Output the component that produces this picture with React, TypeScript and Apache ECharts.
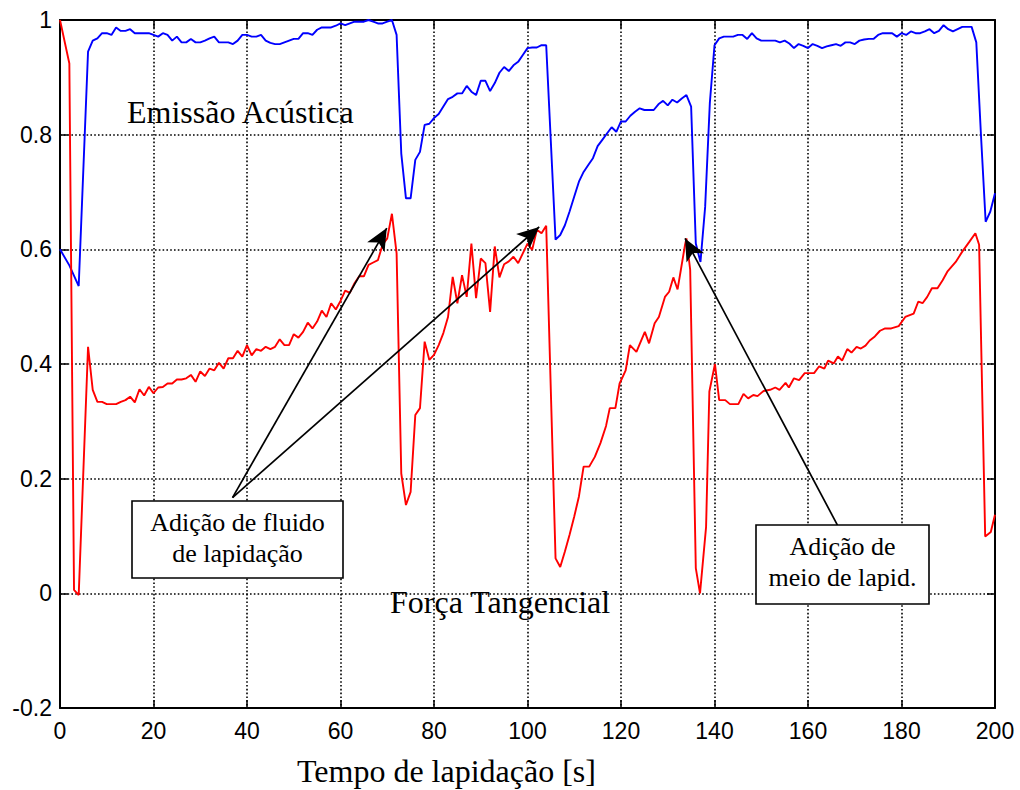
import React, { useEffect, useRef } from "react";
import * as echarts from "echarts";

// Emissão Acústica (blue) — time [s] and normalized value
const emissionT = [0, 2, 4, 6, 7, 8, 9, 10, 11, 12, 13, 14, 15, 16, 17, 18, 19, 20, 21, 22, 23, 24, 25, 26, 27, 28, 29, 30,
  31, 32, 33, 34, 35, 36, 37, 38, 39, 40, 41, 42, 43, 44, 45, 46, 47, 48, 49, 50, 51, 52, 53, 54, 55, 56, 57, 58, 59, 60,
  61, 62, 63, 64, 65, 66, 67, 68, 69, 70, 71, 72, 73, 74, 75, 76, 77, 78, 79, 80, 81, 82, 83, 84, 85, 86, 87, 88, 89, 90,
  91, 92, 93, 94, 95, 96, 97, 98, 99, 100, 101, 102, 103, 104, 106, 107, 108, 109, 110, 111, 112, 113, 114, 115, 116, 117,
  118, 119, 120, 121, 122, 123, 124, 125, 126, 127, 128, 129, 130, 131, 132, 133, 134, 135, 136, 137, 138, 139, 140, 141,
  142, 143, 144, 145, 146, 147, 148, 149, 150, 151, 152, 153, 154, 155, 156, 157, 158, 159, 160, 161, 162, 163, 164, 165,
  166, 167, 168, 169, 170, 171, 172, 173, 174, 175, 176, 177, 178, 179, 180, 181, 182, 183, 184, 185, 186, 187, 188, 189,
  190, 191, 192, 193, 194, 195, 196, 197, 198, 199, 200];
const emissionV = [0.6, 0.572, 0.536, 0.945, 0.964, 0.968, 0.977, 0.977, 0.974, 0.987, 0.981, 0.981, 0.984, 0.977, 0.977,
  0.977, 0.977, 0.974, 0.971, 0.977, 0.974, 0.964, 0.971, 0.961, 0.961, 0.967, 0.961, 0.961, 0.964, 0.968, 0.971, 0.961,
  0.961, 0.961, 0.958, 0.964, 0.974, 0.974, 0.971, 0.971, 0.974, 0.964, 0.96, 0.958, 0.958, 0.961, 0.964, 0.967, 0.967,
  0.977, 0.977, 0.974, 0.983, 0.987, 0.987, 0.987, 0.99, 0.994, 0.991, 0.994, 0.997, 0.997, 0.997, 1.0, 0.997, 0.994,
  0.994, 0.997, 1.0, 0.974, 0.767, 0.689, 0.689, 0.756, 0.77, 0.817, 0.819, 0.829, 0.836, 0.849, 0.862, 0.866, 0.872,
  0.872, 0.885, 0.875, 0.869, 0.894, 0.894, 0.876, 0.89, 0.908, 0.918, 0.911, 0.921, 0.927, 0.939, 0.951, 0.952, 0.952,
  0.956, 0.956, 0.617, 0.625, 0.642, 0.666, 0.692, 0.718, 0.735, 0.747, 0.759, 0.78, 0.791, 0.802, 0.813, 0.805, 0.823,
  0.823, 0.833, 0.84, 0.846, 0.843, 0.843, 0.843, 0.853, 0.859, 0.851, 0.861, 0.856, 0.863, 0.869, 0.849, 0.61, 0.578,
  0.674, 0.855, 0.956, 0.968, 0.971, 0.971, 0.971, 0.974, 0.974, 0.967, 0.977, 0.968, 0.964, 0.964, 0.964, 0.964, 0.961,
  0.964, 0.959, 0.951, 0.958, 0.955, 0.951, 0.958, 0.955, 0.951, 0.954, 0.956, 0.958, 0.955, 0.961, 0.961, 0.958, 0.964,
  0.966, 0.967, 0.967, 0.974, 0.977, 0.977, 0.977, 0.971, 0.977, 0.974, 0.98, 0.977, 0.977, 0.98, 0.984, 0.977, 0.981,
  0.991, 0.984, 0.98, 0.984, 0.988, 0.988, 0.988, 0.961, 0.799, 0.648, 0.666, 0.698];

// Força Tangencial (red) — time [s] and normalized value
const forceT = [0, 2, 3, 4, 6, 7, 8, 9, 10, 11, 12, 13, 14, 15, 16, 17, 18, 19, 20, 21, 22, 23, 24, 25, 26, 27, 28, 29, 30,
  31, 32, 33, 34, 35, 36, 37, 38, 39, 40, 41, 42, 43, 44, 45, 46, 47, 48, 49, 50, 51, 52, 53, 54, 55, 56, 57, 58, 59, 60,
  61, 62, 63, 64, 65, 66, 67, 68, 69, 70, 71, 72, 73, 74, 75, 76, 77, 78, 79, 80, 81, 82, 83, 84, 85, 86, 87, 88, 89, 90,
  91, 92, 93, 94, 95, 96, 97, 98, 99, 100, 101, 102, 103, 104, 106, 107, 108, 109, 110, 111, 112, 113.2, 114.4, 115.6,
  116.8, 117.6, 118.8, 119.7, 121, 121.9, 123.3, 125.1, 126, 127.2, 128.1, 129.4, 130.3, 131.2, 132.1, 132.8, 133.7, 134,
  134.8, 136, 136.9, 138.2, 138.9, 140.1, 141, 142.3, 143.3, 145.1, 146.2, 147.2, 148.3, 149.2, 150.5, 151.9, 153, 153.9,
  155.2, 155.9, 157, 158.1, 159.3, 161.3, 162.4, 163.5, 164.3, 165.5, 166.4, 167.3, 168.4, 169.3, 170.4, 171.3, 172.3,
  173.2, 174.3, 175.4, 176.5, 177.8, 179.4, 180.8, 182.6, 183.6, 184.5, 185.5, 186.5, 187.7, 188.8, 189.8, 191.6, 193,
  194.5, 195.8, 196.6, 197.9, 199.1, 200];
const forceV = [1.0, 0.924, 0.006, -0.003, 0.43, 0.355, 0.334, 0.334, 0.33, 0.33, 0.33, 0.334, 0.337, 0.343, 0.333, 0.356,
  0.345, 0.36, 0.349, 0.359, 0.36, 0.366, 0.366, 0.373, 0.373, 0.375, 0.381, 0.369, 0.387, 0.379, 0.392, 0.389, 0.402,
  0.392, 0.41, 0.41, 0.423, 0.413, 0.433, 0.415, 0.426, 0.423, 0.43, 0.426, 0.43, 0.443, 0.433, 0.433, 0.452, 0.446, 0.456,
  0.472, 0.462, 0.474, 0.493, 0.482, 0.506, 0.495, 0.51, 0.528, 0.524, 0.541, 0.553, 0.553, 0.573, 0.577, 0.581, 0.608,
  0.619, 0.662, 0.593, 0.209, 0.154, 0.177, 0.311, 0.323, 0.439, 0.407, 0.416, 0.433, 0.454, 0.482, 0.552, 0.506, 0.555,
  0.517, 0.61, 0.515, 0.584, 0.576, 0.491, 0.605, 0.551, 0.574, 0.579, 0.587, 0.576, 0.593, 0.61, 0.599, 0.634, 0.628,
  0.641, 0.061, 0.046, 0.073, 0.102, 0.134, 0.169, 0.221, 0.221, 0.238, 0.262, 0.292, 0.323, 0.323, 0.366, 0.389, 0.433,
  0.421, 0.456, 0.436, 0.471, 0.482, 0.517, 0.526, 0.551, 0.53, 0.564, 0.608, 0.619, 0.564, 0.044, 0.0, 0.116, 0.352,
  0.4, 0.337, 0.337, 0.33, 0.33, 0.348, 0.34, 0.346, 0.344, 0.353, 0.355, 0.359, 0.355, 0.367, 0.359, 0.375, 0.372, 0.384,
  0.384, 0.396, 0.392, 0.406, 0.401, 0.413, 0.406, 0.426, 0.42, 0.43, 0.427, 0.432, 0.441, 0.448, 0.458, 0.462, 0.462,
  0.466, 0.482, 0.488, 0.509, 0.506, 0.517, 0.532, 0.532, 0.546, 0.561, 0.578, 0.596, 0.613, 0.628, 0.608, 0.099, 0.107,
  0.137];

// Annotation arrows (data coordinates): from box to curve
const arrowFrom = [[36.9, 0.167], [36.9, 0.167], [166.3, 0.119]];
const arrowTo = [[69.9, 0.637], [102.5, 0.639], [133.7, 0.619]];

const xTitle = "Tempo de lapidação [s]";
const labelEmission = "Emissão Acústica";
const labelForce = "Força Tangencial";
const box1Lines = ["Adição de fluido", "de lapidação"];
const box2Lines = ["Adição de", "meio de lapid."];

const SERIF = '"Liberation Serif", "Times New Roman", serif';
const SANS = '"Liberation Sans", Arial, sans-serif';

export default function App() {
  const ref = useRef<HTMLDivElement>(null);
  useEffect(() => {
    if (!ref.current) return;
    const chart = echarts.init(ref.current, null, { renderer: "svg" });
    const zip = (t: number[], v: number[]) => t.map((x, i) => [x, v[i]]);
    const axisCommon = {
      type: "value",
      axisLine: { show: true, onZero: false, lineStyle: { color: "#000", width: 2 } },
      axisTick: { show: true, inside: true, length: 8, lineStyle: { color: "#000", width: 1.5 } },
    };
    const gridDots = { show: true, lineStyle: { color: "#000", width: 1.6, type: [1.6, 2.2] } };
    const text = (t: string, x: number, y: number, size: number, align = "left") => ({
      type: "text",
      x,
      y,
      z: 101,
      style: {
        text: t,
        font: `${size}px ${SERIF}`,
        fill: "#000",
        textAlign: align,
        textVerticalAlign: "middle",
      },
    });
    chart.setOption({
      animation: false,
      grid: { left: 60, right: 25, top: 20, bottom: 82 },
      xAxis: [
        {
          ...axisCommon,
          position: "bottom",
          min: 0,
          max: 200,
          interval: 20,
          axisLabel: { color: "#000", fontFamily: SANS, fontSize: 23, margin: 11 },
          splitLine: gridDots,
        },
        {
          ...axisCommon,
          position: "top",
          min: 0,
          max: 200,
          interval: 20,
          axisLabel: { show: false },
          splitLine: { show: false },
        },
      ],
      yAxis: [
        {
          ...axisCommon,
          position: "left",
          min: -0.2,
          max: 1,
          interval: 0.2,
          axisLabel: {
            color: "#000",
            fontFamily: SANS,
            fontSize: 23,
            margin: 8,
            formatter: (v: number) => String(Math.round(v * 10) / 10),
          },
          splitLine: gridDots,
        },
        {
          ...axisCommon,
          position: "right",
          min: -0.2,
          max: 1,
          interval: 0.2,
          axisLabel: { show: false },
          splitLine: { show: false },
        },
      ],
      series: [
        {
          name: labelForce,
          type: "line",
          data: zip(forceT, forceV),
          showSymbol: false,
          symbol: "none",
          lineStyle: { color: "#ff0000", width: 1.9 },
          z: 3,
          markLine: {
            silent: true,
            animation: false,
            symbol: ["none", "arrow"],
            symbolSize: [15, 22],
            label: { show: false },
            lineStyle: { color: "#000", width: 1.7, type: "solid" },
            emphasis: { disabled: true },
            data: arrowFrom.map((f, i) => [{ coord: f }, { coord: arrowTo[i] }]),
          },
        },
        {
          name: labelEmission,
          type: "line",
          data: zip(emissionT, emissionV),
          showSymbol: false,
          symbol: "none",
          lineStyle: { color: "#0000ff", width: 1.9 },
          z: 2,
        },
      ],
      graphic: [
        text(labelEmission, 127, 112, 32),
        text(labelForce, 390, 602, 32),
        text(xTitle, 297, 771, 32),
        {
          type: "rect",
          z: 100,
          shape: { x: 132, y: 501, width: 211, height: 77 },
          style: { fill: "#fff", stroke: "#000", lineWidth: 1.6 },
        },
        text(box1Lines[0], 237.5, 522, 26, "center"),
        text(box1Lines[1], 237.5, 553, 26, "center"),
        {
          type: "rect",
          z: 100,
          shape: { x: 756, y: 525, width: 173, height: 79 },
          style: { fill: "#fff", stroke: "#000", lineWidth: 1.6 },
        },
        text(box2Lines[0], 842.5, 546, 26, "center"),
        text(box2Lines[1], 842.5, 577, 26, "center"),
      ],
    });
    return () => chart.dispose();
  }, []);
  return (
    <div
      ref={ref}
      style={{ position: "fixed", left: 0, top: 0, width: 1020, height: 790, background: "#fff" }}
    />
  );
}
